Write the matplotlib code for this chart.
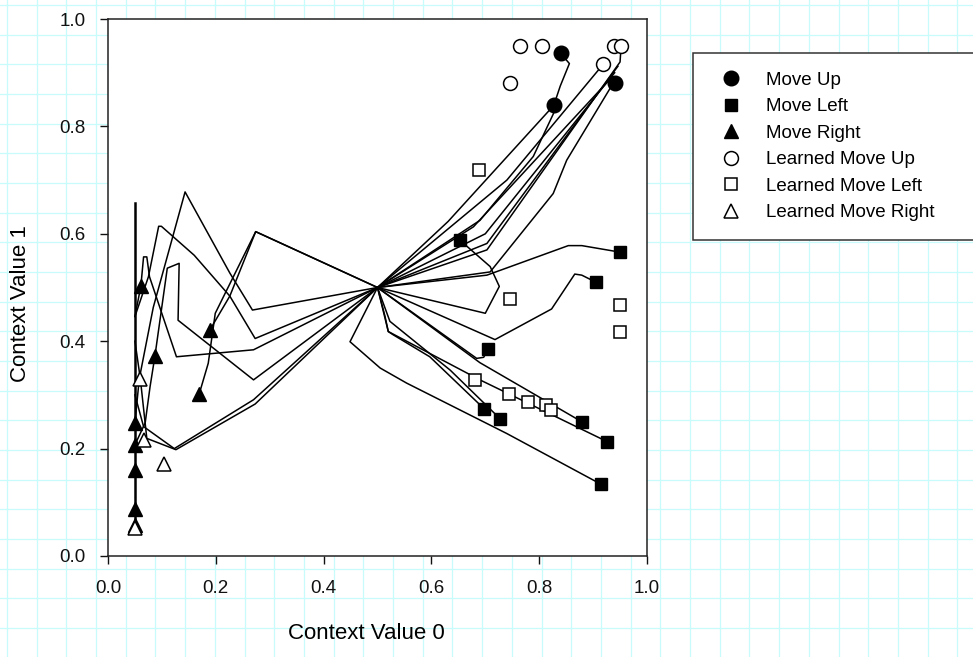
import numpy as np
import matplotlib.pyplot as plt
from matplotlib.lines import Line2D

plt.rcParams['font.family'] = ['Liberation Sans', 'DejaVu Sans']

# trajectories (Context Value 0, Context Value 1), all start at the centre
up_paths = [
    [(0.5, 0.5), (0.631, 0.623), (0.827, 0.839), (0.839, 0.875), (0.856, 0.917), (0.840, 0.936)],
    [(0.5, 0.5), (0.690, 0.625), (0.789, 0.744), (0.827, 0.825), (0.827, 0.839)],
    [(0.5, 0.5), (0.678, 0.613), (0.936, 0.893)],
    [(0.5, 0.5), (0.703, 0.582), (0.946, 0.912)],
    [(0.5, 0.5), (0.703, 0.570), (0.950, 0.920), (0.952, 0.950)],
    [(0.5, 0.5), (0.709, 0.529), (0.826, 0.675), (0.851, 0.737), (0.943, 0.890)],
    [(0.5, 0.5), (0.740, 0.700), (0.919, 0.916)],
    [(0.5, 0.5), (0.700, 0.600), (0.780, 0.700), (0.940, 0.900)],
]
left_paths = [
    [(0.5, 0.5), (0.449, 0.399), (0.505, 0.350), (0.554, 0.322), (0.740, 0.228), (0.914, 0.134)],
    [(0.5, 0.5), (0.520, 0.418), (0.529, 0.412), (0.597, 0.371), (0.698, 0.274)],
    [(0.5, 0.5), (0.523, 0.437), (0.635, 0.346), (0.727, 0.256)],
    [(0.5, 0.5), (0.690, 0.360), (0.879, 0.250)],
    [(0.5, 0.5), (0.514, 0.446), (0.520, 0.418), (0.690, 0.328), (0.926, 0.213)],
    [(0.5, 0.5), (0.684, 0.368), (0.697, 0.370), (0.705, 0.385)],
    [(0.5, 0.5), (0.718, 0.403), (0.823, 0.460), (0.866, 0.525), (0.879, 0.523), (0.905, 0.510)],
    [(0.5, 0.5), (0.703, 0.523), (0.854, 0.578), (0.879, 0.578), (0.949, 0.566)],
    [(0.5, 0.5), (0.700, 0.452), (0.726, 0.502), (0.709, 0.539), (0.653, 0.588)],
]
right_paths = [
    [(0.5, 0.5), (0.274, 0.604), (0.226, 0.484), (0.189, 0.421)],
    [(0.5, 0.5), (0.274, 0.604), (0.199, 0.452), (0.186, 0.359), (0.169, 0.301)],
    [(0.5, 0.5), (0.268, 0.458), (0.226, 0.527), (0.143, 0.678), (0.084, 0.463), (0.058, 0.330), (0.05, 0.248)],
    [(0.5, 0.5), (0.270, 0.384), (0.127, 0.371), (0.077, 0.520), (0.072, 0.557), (0.066, 0.557), (0.061, 0.503), (0.05, 0.446)],
    [(0.5, 0.5), (0.270, 0.328), (0.130, 0.439), (0.132, 0.545), (0.110, 0.536), (0.087, 0.372), (0.078, 0.315), (0.069, 0.248), (0.05, 0.207)],
    [(0.5, 0.5), (0.273, 0.405), (0.226, 0.484), (0.160, 0.560), (0.099, 0.614), (0.094, 0.614), (0.075, 0.520), (0.05, 0.446)],
    [(0.5, 0.5), (0.270, 0.291), (0.123, 0.200), (0.066, 0.241), (0.050, 0.300)],
    [(0.5, 0.5), (0.273, 0.283), (0.126, 0.198), (0.072, 0.219), (0.060, 0.330), (0.050, 0.400)],
]
# shared stretch that several Move Right runs slide down
stem_x = [0.05, 0.05]
stem_y = [0.657, 0.058]

# end points
up_x = [0.840, 0.827, 0.941]
up_y = [0.936, 0.839, 0.881]
left_x = [0.653, 0.949, 0.905, 0.705, 0.698, 0.727, 0.879, 0.926, 0.914]
left_y = [0.588, 0.566, 0.510, 0.385, 0.274, 0.256, 0.250, 0.213, 0.134]
right_x = [0.061, 0.189, 0.087, 0.169, 0.05, 0.05, 0.05, 0.05, 0.05]
right_y = [0.503, 0.421, 0.372, 0.301, 0.248, 0.207, 0.161, 0.087, 0.058]

learned_up_x = [0.764, 0.806, 0.939, 0.952, 0.919, 0.745]
learned_up_y = [0.950, 0.950, 0.950, 0.950, 0.916, 0.881]
learned_left_x = [0.689, 0.745, 0.949, 0.949, 0.680, 0.744, 0.780, 0.813, 0.821]
learned_left_y = [0.719, 0.478, 0.467, 0.418, 0.328, 0.302, 0.287, 0.281, 0.271]
learned_right_x = [0.059, 0.066, 0.103, 0.05]
learned_right_y = [0.329, 0.216, 0.171, 0.052]

W, H = 973, 657
fig = plt.figure(figsize=(W / 100, H / 100), dpi=100)

# graph paper behind everything
bg = fig.add_axes([0, 0, 1, 1], zorder=0)
bg.set_xlim(0, W)
bg.set_ylim(H, 0)
bg.axis('off')
for gx in np.arange(6.9, W, 29.7):
    bg.axvline(gx, color='#c8fbfb', lw=0.9)
for gy in np.arange(5.0, H, 29.67):
    bg.axhline(gy, color='#c8fbfb', lw=0.9)

ax = fig.add_axes([108 / W, 1 - 556 / H, 539 / W, 537 / H], zorder=1)
ax.set_facecolor('white')

for paths in (up_paths, left_paths, right_paths):
    for p in paths:
        xs, ys = zip(*p)
        ax.plot(xs, ys, color='black', lw=1.1, zorder=2)
ax.plot(stem_x, stem_y, color='black', lw=1.8, zorder=2)

mk = dict(ls='none', color='black', zorder=3)
ax.plot(up_x, up_y, marker='o', ms=10.5, **mk)
ax.plot(left_x, left_y, marker='s', ms=8.5, **mk)
ax.plot(right_x, right_y, marker='^', ms=10.5, **mk)
ok = dict(ls='none', mfc='white', mec='black', mew=1.1, zorder=4)
ax.plot(learned_up_x, learned_up_y, marker='o', ms=10, **ok)
ax.plot(learned_left_x, learned_left_y, marker='s', ms=8.5, **ok)
ax.plot(learned_right_x, learned_right_y, marker='^', ms=10, **ok)

ax.set_xlim(0, 1)
ax.set_ylim(0, 1)
ax.set_xticks(np.arange(0, 1.01, 0.2))
ax.set_yticks(np.arange(0, 1.01, 0.2))
ax.xaxis.set_major_formatter(plt.FormatStrFormatter('%.1f'))
ax.yaxis.set_major_formatter(plt.FormatStrFormatter('%.1f'))
ax.tick_params(direction='out', length=6, width=1.0, labelsize=13.5, colors='#111111')
ax.tick_params(axis='x', pad=11)
ax.tick_params(axis='y', pad=10)
for s in ax.spines.values():
    s.set_linewidth(1.1)
    s.set_color('#222222')

ax.set_xlabel('Context Value 0', fontsize=16)
ax.set_ylabel('Context Value 1', fontsize=16)
ax.xaxis.set_label_coords(0.48, -0.125)
ax.yaxis.set_label_coords(-0.143, 0.47)

handles = [
    Line2D([], [], marker='o', ms=10.5, **mk),
    Line2D([], [], marker='s', ms=8.5, **mk),
    Line2D([], [], marker='^', ms=10.5, **mk),
    Line2D([], [], marker='o', ms=10, **ok),
    Line2D([], [], marker='s', ms=8.5, **ok),
    Line2D([], [], marker='^', ms=10, **ok),
]
labels = ['Move Up', 'Move Left', 'Move Right',
          'Learned Move Up', 'Learned Move Left', 'Learned Move Right']
leg = fig.legend(handles, labels, loc='upper left', mode='expand',
                 bbox_to_anchor=(693 / W, 1 - 53 / H - 0.01, 320 / W, 0.01),
                 fontsize=13.5, frameon=True, fancybox=False, framealpha=1,
                 edgecolor='#333333', borderpad=1.0, handlelength=2.0,
                 handletextpad=0.9, labelspacing=0.5, borderaxespad=0)
leg.get_frame().set_linewidth(1.1)
leg.set_zorder(5)

fig.savefig('out.png', dpi=100, facecolor='white')
